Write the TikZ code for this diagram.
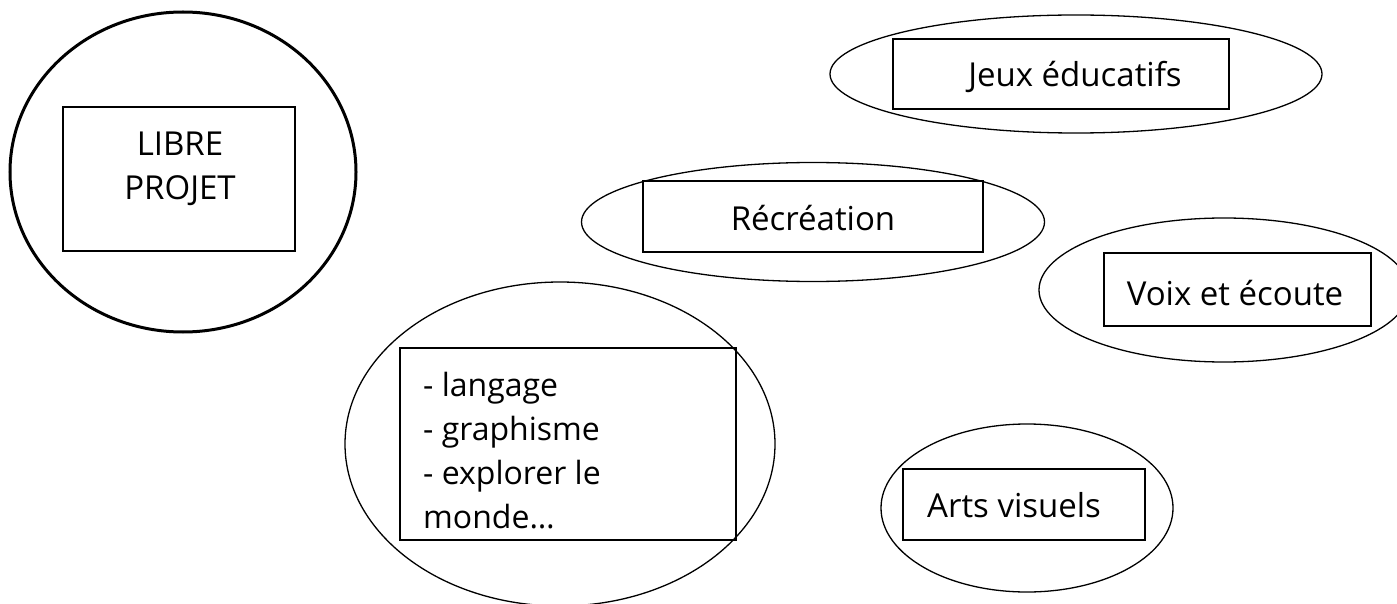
\documentclass[tikz,border=0pt]{standalone}
\usepackage{fontspec}
\setmainfont{Open Sans}
\usetikzlibrary{shapes.geometric}
\begin{document}
\begin{tikzpicture}[x=1pt,y=-1pt,
  oval/.style={draw, ellipse, inner sep=0pt, line width=1.3pt},
  box/.style={draw, rectangle, inner sep=0pt, line width=1.8pt},
  lbl/.style={inner sep=0pt, font=\fontsize{33}{44}\selectfont},
  lst/.style={inner sep=0pt, font=\fontsize{32}{44}\selectfont}]
\useasboundingbox (0,0) rectangle (1397,604);
\clip (0,0) rectangle (1397,604);
% LIBRE PROJET
\node[oval, line width=3pt, minimum width=346pt, minimum height=320pt] (cLibre) at (183,172) {};
\node[box, minimum width=232pt, minimum height=144pt] (bLibre) at (179,179) {};
\node[lbl, align=center, anchor=north] (tLibre) at (180,132) {LIBRE\\PROJET};
% Jeux educatifs
\node[oval, minimum width=492pt, minimum height=118pt] (cJeux) at (1076,74) {};
\node[box, minimum width=336pt, minimum height=70pt] (bJeux) at (1061,74) {};
\node[lbl, anchor=base] (tJeux) at (1075,87) {Jeux éducatifs};
% Recreation
\node[oval, minimum width=463pt, minimum height=119pt] (cRec) at (813,222) {};
\node[box, minimum width=340pt, minimum height=71pt] (bRec) at (813,216.5) {};
\node[lbl, anchor=base] (tRec) at (813,230) {Récréation};
% Voix et ecoute
\node[oval, minimum width=370pt, minimum height=144pt] (cVoix) at (1224,290) {};
\node[box, minimum width=267pt, minimum height=73pt] (bVoix) at (1237.5,289.5) {};
\node[lbl, anchor=base] (tVoix) at (1235,305) {Voix et écoute};
% Arts visuels
\node[oval, minimum width=292pt, minimum height=168pt] (cArts) at (1027,508) {};
\node[box, minimum width=242pt, minimum height=71pt] (bArts) at (1024,504.5) {};
\node[lbl, anchor=base west] (tArts) at (927,517) {Arts visuels};
% langage
\node[oval, minimum width=430pt, minimum height=324pt] (cLang) at (560,444) {};
\node[box, minimum width=336pt, minimum height=192pt] (bLang) at (568,444) {};
\node[lst, align=left, anchor=north west] (tLang) at (423,372) {- langage\\- graphisme\\- explorer le\\monde\ldots};
\end{tikzpicture}
\end{document}
